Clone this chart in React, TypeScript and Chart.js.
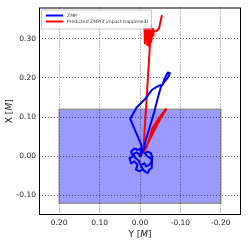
import React, { useEffect, useRef } from "react";
import { Chart, registerables } from "chart.js";

Chart.register(...registerables);

// ZMP trajectory: horizontal axis = Y [M], vertical axis = X [M]
const zmpY = [0.000, -0.002, 0.006, 0.014, 0.022, 0.018, 0.026, 0.022, 0.014, 0.006, 0.010, 0.002, -0.007, -0.002, -0.011, -0.015, -0.023, -0.029, -0.027, -0.019, -0.011, -0.019, -0.027, -0.030, -0.029, -0.023, -0.019, -0.011, -0.004, 0.004, 0.012, 0.016, 0.008, 0.002, -0.006, -0.003, 0.024, 0.009, -0.015, -0.030, -0.048, -0.056, -0.061, -0.069, -0.074, -0.069, -0.061, -0.052, -0.044, -0.036, -0.024, -0.014, -0.010, -0.004];
const zmpX = [0.000, 0.020, 0.016, 0.020, 0.012, -0.001, -0.005, -0.018, -0.013, -0.022, -0.034, -0.038, -0.034, -0.022, -0.018, -0.026, -0.022, -0.013, -0.005, -0.001, 0.008, 0.012, 0.008, -0.002, -0.030, -0.034, -0.043, -0.038, -0.028, -0.010, -0.004, 0.006, 0.010, 0.004, 0.012, 0.030, 0.095, 0.124, 0.149, 0.170, 0.181, 0.183, 0.199, 0.214, 0.212, 0.201, 0.191, 0.178, 0.149, 0.116, 0.074, 0.040, 0.020, 0.008];

// Predicted ZMP (if impact happened)
const predY = [0.000, -0.008, -0.016, -0.026, -0.040, -0.055, -0.065, -0.050, -0.035, -0.022, -0.030, -0.045, -0.060, -0.063, -0.045, -0.030, -0.018, -0.012, -0.009, -0.025, -0.011, -0.012, -0.017, -0.018, -0.022, -0.023, -0.027, -0.028, -0.032, -0.034, -0.030, -0.040, -0.047, -0.054];
const predX = [0.000, 0.010, 0.022, 0.055, 0.085, 0.105, 0.120, 0.095, 0.065, 0.040, 0.070, 0.095, 0.115, 0.120, 0.085, 0.055, 0.030, 0.018, 0.025, 0.290, 0.334, 0.288, 0.338, 0.284, 0.330, 0.280, 0.334, 0.292, 0.326, 0.309, 0.318, 0.320, 0.326, 0.359];

// Support polygon rectangle
const rectY = [0.2, -0.2];
const rectX = [-0.12, 0.12];

const xTicks = [0.2, 0.1, 0.0, -0.1, -0.2];
const yTicks = [0.3, 0.2, 0.1, 0.0, -0.1];

const seriesNames = ["ZMP", "Predicted ZMP(if impact happened)"];
const seriesColors = ["#0000ff", "#ff0000"];

const FONT = "DejaVu Sans";

function drawMixed(ctx: CanvasRenderingContext2D, parts: [string, string][], cx: number, cy: number) {
  let total = 0;
  const widths = parts.map(([t, f]) => {
    ctx.font = f;
    const w = ctx.measureText(t).width;
    total += w;
    return w;
  });
  let x = cx - total / 2;
  ctx.textAlign = "left";
  ctx.textBaseline = "middle";
  parts.forEach(([t, f], i) => {
    ctx.font = f;
    ctx.fillText(t, x, cy);
    x += widths[i];
  });
}

const decorPlugin = {
  id: "decor",
  beforeDraw(chart: any) {
    const { ctx, scales } = chart;
    const xs = scales.x, ys = scales.y;
    const x1 = xs.getPixelForValue(rectY[0]);
    const x2 = xs.getPixelForValue(rectY[1]);
    const y1 = ys.getPixelForValue(rectX[0]);
    const y2 = ys.getPixelForValue(rectX[1]);
    ctx.save();
    ctx.fillStyle = "rgb(153,153,255)";
    ctx.fillRect(Math.min(x1, x2), Math.min(y1, y2), Math.abs(x2 - x1), Math.abs(y2 - y1));
    ctx.strokeStyle = "rgb(150,150,150)";
    ctx.lineWidth = 1.5;
    ctx.strokeRect(Math.min(x1, x2), Math.min(y1, y2), Math.abs(x2 - x1), Math.abs(y2 - y1));
    ctx.restore();
  },
  afterDraw(chart: any) {
    const { ctx, chartArea } = chart;
    const { left, right, top, bottom } = chartArea;
    ctx.save();
    // frame
    ctx.strokeStyle = "#000";
    ctx.lineWidth = 1;
    ctx.strokeRect(left + 0.5, top + 0.5, right - left - 1, bottom - top - 1);
    // legend
    const lx = left + 2, ly = top + 2, lw = 110, lh = 19;
    ctx.fillStyle = "rgba(255,255,255,0.9)";
    ctx.fillRect(lx, ly, lw, lh);
    ctx.strokeStyle = "#bbb";
    ctx.lineWidth = 0.8;
    ctx.strokeRect(lx + 0.5, ly + 0.5, lw, lh);
    seriesNames.forEach((name, i) => {
      const yy = ly + 6 + i * 6;
      ctx.strokeStyle = seriesColors[i];
      ctx.lineWidth = 2;
      ctx.beginPath();
      ctx.moveTo(lx + 5, yy);
      ctx.lineTo(lx + 22, yy);
      ctx.stroke();
      ctx.fillStyle = "#333";
      ctx.font = `4.6px ${FONT}`;
      ctx.textAlign = "left";
      ctx.textBaseline = "middle";
      ctx.fillText(name, lx + 26, yy);
    });
    // axis titles
    ctx.fillStyle = "#222";
    drawMixed(ctx, [["Y [", `9px ${FONT}`], ["M", `italic 9px ${FONT}`], ["]", `9px ${FONT}`]], (left + right) / 2, 235);
    ctx.save();
    ctx.translate(10, (top + bottom) / 2);
    ctx.rotate(-Math.PI / 2);
    drawMixed(ctx, [["X [", `9px ${FONT}`], ["M", `italic 9px ${FONT}`], ["]", `9px ${FONT}`]], 0, 0);
    ctx.restore();
    ctx.restore();
  },
};

export default function App() {
  const ref = useRef<HTMLCanvasElement>(null);
  useEffect(() => {
    if (!ref.current) return;
    const chart = new Chart(ref.current, {
      type: "scatter",
      data: {
        datasets: [
          {
            label: seriesNames[0],
            data: zmpY.map((v, i) => ({ x: v, y: zmpX[i] })),
            borderColor: seriesColors[0],
            backgroundColor: seriesColors[0],
            showLine: true,
            pointRadius: 0,
            borderWidth: 2,
            borderJoinStyle: "round",
            borderCapStyle: "round",
            tension: 0,
          },
          {
            label: seriesNames[1],
            data: predY.map((v, i) => ({ x: v, y: predX[i] })),
            borderColor: seriesColors[1],
            backgroundColor: seriesColors[1],
            showLine: true,
            pointRadius: 0,
            borderWidth: 2,
            borderJoinStyle: "round",
            borderCapStyle: "round",
            tension: 0,
          },
        ],
      },
      options: {
        animation: false,
        responsive: false,
        maintainAspectRatio: false,
        layout: { padding: { top: 5, right: 8, left: 0, bottom: 0 } },
        plugins: { legend: { display: false }, tooltip: { enabled: false } },
        scales: {
          x: {
            type: "linear",
            reverse: true,
            min: -0.25,
            max: 0.25,
            afterBuildTicks: (s: any) => { s.ticks = xTicks.map((v) => ({ value: v })); },
            afterFit: (s: any) => { s.height = 30; },
            grid: { color: "rgba(0,0,0,0.55)", lineWidth: 1, drawTicks: false },
            border: { display: false, dash: [1, 2] },
            ticks: {
              font: { family: FONT, size: 7.5 },
              color: "#222",
              padding: 4,
              maxRotation: 0,
              callback: (v: any) => Number(v).toFixed(2),
            },
          },
          y: {
            type: "linear",
            min: -0.15,
            max: 0.38,
            afterBuildTicks: (s: any) => { s.ticks = yTicks.map((v) => ({ value: v })); },
            afterFit: (s: any) => { s.width = 39; },
            grid: { color: "rgba(0,0,0,0.55)", lineWidth: 1, drawTicks: false },
            border: { display: false, dash: [1, 2] },
            ticks: {
              font: { family: FONT, size: 7.5 },
              color: "#222",
              padding: 3,
              callback: (v: any) => Number(v).toFixed(2),
            },
          },
        },
      },
      plugins: [decorPlugin],
    });
    return () => chart.destroy();
  }, []);
  return (
    <div style={{ position: "fixed", left: 0, top: 0, width: 249, height: 245 }}>
      <canvas ref={ref} width={249} height={245} style={{ width: 249, height: 245 }} />
    </div>
  );
}
